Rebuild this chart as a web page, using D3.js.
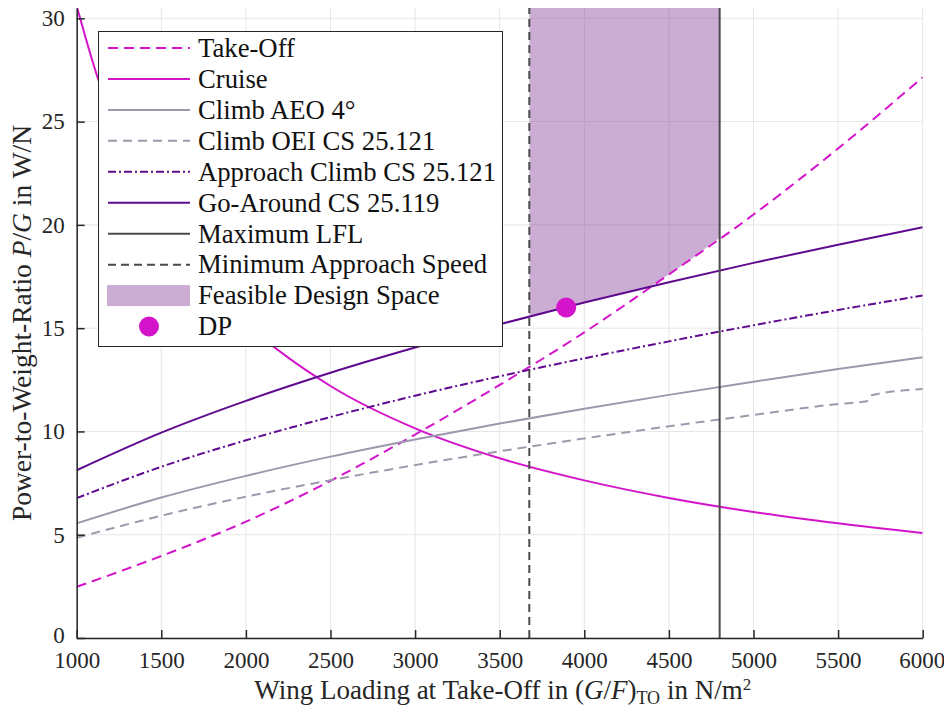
<!DOCTYPE html>
<html>
<head>
<meta charset="utf-8">
<script src="https://cdn.jsdelivr.net/npm/d3@7"></script>
<style>
  body { margin: 0; background: #fff; }
  svg { display: block; }
  svg text { font-family: "Liberation Serif", "Tinos", "Times New Roman", "DejaVu Serif", serif; }
</style>
</head>
<body>
<svg id="chart" width="944" height="707"></svg>
<script>
// wing loading grid (N/m^2)
const wingLoading = [1000, 1500, 2000, 2500, 3000, 3500, 4000, 4500, 5000, 5500, 6000];

// power-to-weight ratios (W/N)
const takeOff    = [2.48, 3.97, 5.63, 7.61, 9.85, 12.25, 14.8, 17.6, 20.5, 23.7, 27.15];
const climbAEO   = [5.55, 6.8, 7.85, 8.78, 9.61, 10.38, 11.1, 11.77, 12.41, 13.02, 13.59];
const approach   = [6.77, 8.29, 9.57, 10.7, 11.73, 12.67, 13.54, 14.36, 15.14, 15.88, 16.58];
const goAround   = [8.12, 9.94, 11.48, 12.84, 14.06, 15.19, 16.24, 17.22, 18.16, 19.04, 19.89];

const cruiseX    = [1000, 1125, 1250, 1500, 1750, 2000, 2500, 3000, 3500, 4000, 4500, 5000, 5500, 6000];
const cruise     = [30.6, 27.1, 24.4, 20.3, 17.4, 15.25, 12.2, 10.15, 8.7, 7.63, 6.78, 6.1, 5.55, 5.08];

const oeiX       = [1000, 1500, 2000, 2500, 3000, 3500, 4000, 4500, 5000, 5500, 5670, 5690, 6000];
const climbOEI   = [4.85, 5.92, 6.84, 7.64, 8.37, 9.04, 9.66, 10.25, 10.8, 11.33, 11.46, 11.74, 12.05];

const maxLFL = 4800;
const minApproach = 3675;

// lower edge of the feasible design space
const feasX   = [3675, 3900, 4100, 4390, 4600, 4800];
const feasLow = [15.57, 16.04, 16.44, 17.01, 18.15, 19.38];

const designPoint = { x: 3893, y: 16.0 };

const xTicks = [1000, 1500, 2000, 2500, 3000, 3500, 4000, 4500, 5000, 5500, 6000];
const yTicks = [0, 5, 10, 15, 20, 25, 30];

const legendLabels = ["Take-Off", "Cruise", "Climb AEO 4°", "Climb OEI CS 25.121",
  "Approach Climb CS 25.121", "Go-Around CS 25.119", "Maximum LFL",
  "Minimum Approach Speed", "Feasible Design Space", "DP"];

const magenta = "#d414cb";
const purple = "#5f0a8f";
const grey = "#9d99ad";
const dark = "#4a4a4a";
const serif = '"Liberation Serif", "Tinos", "Times New Roman", "DejaVu Serif", serif';

const margin = { left: 76.7, right: 21.3, top: 8, bottom: 69 };
const W = 944, H = 707;
const svg = d3.select("#chart");

const x = d3.scaleLinear().domain([1000, 6000]).range([margin.left, W - margin.right]);
const y = d3.scaleLinear().domain([0, 30.5]).range([H - margin.bottom, margin.top]);

svg.append("defs").append("clipPath").attr("id", "clip")
  .append("rect")
  .attr("x", x(1000)).attr("y", y(30.5))
  .attr("width", x(6000) - x(1000)).attr("height", y(0) - y(30.5));

// grid
const grid = svg.append("g").attr("stroke", "#e6e6e6").attr("stroke-width", 1);
grid.selectAll(".gx").data(xTicks).join("line")
  .attr("x1", d => x(d)).attr("x2", d => x(d))
  .attr("y1", y(0)).attr("y2", y(30.5));
grid.selectAll(".gy").data(yTicks).join("line")
  .attr("x1", x(1000)).attr("x2", x(6000))
  .attr("y1", d => y(d)).attr("y2", d => y(d));

const plot = svg.append("g").attr("clip-path", "url(#clip)");

// feasible design space
const area = d3.area()
  .x(d => x(d[0]))
  .y0(d => y(d[1]))
  .y1(y(30.5));
plot.append("path")
  .datum(feasX.map((v, i) => [v, feasLow[i]]))
  .attr("d", area)
  .attr("fill", "#7e2f8e")
  .attr("fill-opacity", 0.4);

const line = d3.line()
  .x(d => x(d[0]))
  .y(d => y(d[1]))
  .curve(d3.curveMonotoneX);

const series = [
  { xs: wingLoading, ys: takeOff, color: magenta, dash: "10,6", w: 2 },
  { xs: cruiseX, ys: cruise, color: magenta, dash: null, w: 2 },
  { xs: wingLoading, ys: climbAEO, color: grey, dash: null, w: 2 },
  { xs: oeiX, ys: climbOEI, color: grey, dash: "9,6", w: 2 },
  { xs: wingLoading, ys: approach, color: purple, dash: "8,3,2,3", w: 2 },
  { xs: wingLoading, ys: goAround, color: purple, dash: null, w: 2 }
];

series.forEach(s => {
  plot.append("path")
    .datum(s.xs.map((v, i) => [v, s.ys[i]]))
    .attr("d", line)
    .attr("fill", "none")
    .attr("stroke", s.color)
    .attr("stroke-width", s.w)
    .attr("stroke-dasharray", s.dash);
});

// limit lines
plot.append("line")
  .attr("x1", x(maxLFL)).attr("x2", x(maxLFL))
  .attr("y1", y(0)).attr("y2", y(30.5))
  .attr("stroke", dark).attr("stroke-width", 2);
plot.append("line")
  .attr("x1", x(minApproach)).attr("x2", x(minApproach))
  .attr("y1", y(0)).attr("y2", y(30.5))
  .attr("stroke", dark).attr("stroke-width", 2)
  .attr("stroke-dasharray", "8,5");

// design point
svg.append("circle")
  .attr("cx", x(designPoint.x)).attr("cy", y(designPoint.y))
  .attr("r", 10).attr("fill", magenta);

// axes
const xAxis = svg.append("g").attr("transform", `translate(0,${y(0)})`)
  .call(d3.axisBottom(x).tickValues(xTicks).tickFormat(d3.format("d"))
    .tickSizeInner(-8).tickSizeOuter(0).tickPadding(14));
const yAxis = svg.append("g").attr("transform", `translate(${x(1000)},0)`)
  .call(d3.axisLeft(y).tickValues(yTicks).tickFormat(d3.format("d"))
    .tickSizeInner(-8).tickSizeOuter(0).tickPadding(12));
[xAxis, yAxis].forEach(a => {
  a.attr("font-family", serif);
  a.select(".domain").attr("stroke", "#262626").attr("stroke-width", 1.5);
  a.selectAll(".tick line").attr("stroke", "#262626").attr("stroke-width", 1.5);
  a.selectAll("text").attr("fill", "#262626").style("font-size", "23px");
});
xAxis.selectAll(".tick:last-of-type text").attr("dx", -1);
// nudge the "0" label so it clears the first x label
yAxis.selectAll(".tick text").filter(d => d === 0).attr("y", -3);

// axis labels
const xl = svg.append("text")
  .attr("x", (x(1000) + x(6000)) / 2 + 3).attr("y", 699)
  .attr("text-anchor", "middle").attr("fill", "#262626")
  .style("font-size", "27px");
xl.append("tspan").text("Wing Loading at Take-Off in (");
xl.append("tspan").attr("font-style", "italic").text("G");
xl.append("tspan").text("/");
xl.append("tspan").attr("font-style", "italic").text("F");
xl.append("tspan").text(")");
xl.append("tspan").attr("dy", 5).style("font-size", "18px").text("TO");
xl.append("tspan").attr("dy", -5).text(" in N/m");
xl.append("tspan").attr("dy", -9).style("font-size", "17px").text("2");

const yl = svg.append("text")
  .attr("transform", `translate(31,${(y(0) + y(30.5)) / 2}) rotate(-90)`)
  .attr("text-anchor", "middle").attr("fill", "#262626")
  .style("font-size", "27.5px");
yl.append("tspan").text("Power-to-Weight-Ratio ");
yl.append("tspan").attr("font-style", "italic").text("P");
yl.append("tspan").text("/");
yl.append("tspan").attr("font-style", "italic").text("G");
yl.append("tspan").text(" in W/N");

// legend
const legend = svg.append("g");
legend.append("rect")
  .attr("x", 98.5).attr("y", 31.5).attr("width", 404).attr("height", 315)
  .attr("fill", "#fff").attr("stroke", "#262626").attr("stroke-width", 1);

const legendStyle = [
  { type: "line", color: magenta, dash: "10,6" },
  { type: "line", color: magenta, dash: null },
  { type: "line", color: grey, dash: null },
  { type: "line", color: grey, dash: "9,6" },
  { type: "line", color: purple, dash: "8,3,2,3" },
  { type: "line", color: purple, dash: null },
  { type: "line", color: dark, dash: null },
  { type: "line", color: dark, dash: "8,5" },
  { type: "patch" },
  { type: "dot" }
];

legendLabels.forEach((label, i) => {
  const cy = 48 + i * 30.95;
  const st = legendStyle[i];
  if (st.type === "line") {
    legend.append("line")
      .attr("x1", 108).attr("x2", 190).attr("y1", cy).attr("y2", cy)
      .attr("stroke", st.color).attr("stroke-width", 2)
      .attr("stroke-dasharray", st.dash);
  } else if (st.type === "patch") {
    legend.append("rect")
      .attr("x", 107).attr("y", cy - 10.5).attr("width", 83).attr("height", 21)
      .attr("fill", "#7e2f8e").attr("fill-opacity", 0.4);
  } else {
    legend.append("circle")
      .attr("cx", 149).attr("cy", cy).attr("r", 10).attr("fill", magenta);
  }
  legend.append("text")
    .attr("x", 198).attr("y", cy).attr("dy", "0.33em")
    .attr("fill", "#111")
    .style("font-size", "26.7px")
    .text(label);
});
</script>
</body>
</html>
